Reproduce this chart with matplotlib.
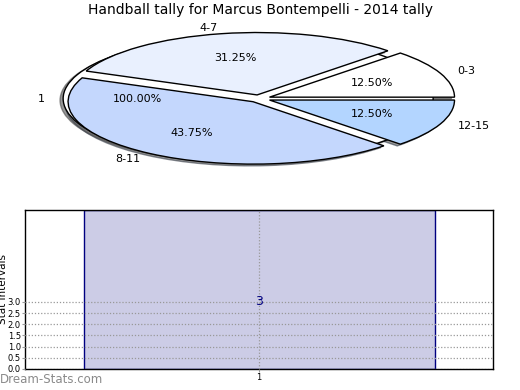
#!/usr/bin/env python3
# Handball tally pie + stat interval bar for Marcus Bontempelli (2014)

import numpy as np
import matplotlib
matplotlib.use("Agg")
import matplotlib.pyplot as plt

title = "Handball tally for Marcus Bontempelli - 2014 tally"

# pie data: handball counts by range
tally_labels = ["0-3", "4-7", "8-11", "12-15"]
tally_counts = [2, 5, 7, 2]
tally_colors = ["#FFFFFF", "#E9F0FE", "#C4D7FD", "#B3D5FF"]

# stat intervals
interval_labels = ["1"]
interval_values = [3]

fig = plt.figure(figsize=(5.2, 3.9), dpi=100)

# ---- pie (squashed into an ellipse) ----
shadow = dict(ox=-0.012, oy=-0.02, facecolor="#555555", alpha=0.6)
ax1 = fig.add_axes([28 / 520, 1 - 176.6 / 390, 462.5 / 520, 156 / 390])
ax1.pie(interval_values, labels=interval_labels, colors=["white"],
        explode=[0.06], autopct="%1.2f%%", shadow=shadow,
        wedgeprops=dict(edgecolor="black", linewidth=1),
        textprops=dict(fontsize=8))
ax1.pie(tally_counts, labels=tally_labels, colors=tally_colors,
        explode=[0.06] * len(tally_counts), autopct="%1.2f%%", shadow=shadow,
        wedgeprops=dict(edgecolor="black", linewidth=1),
        textprops=dict(fontsize=8))
ax1.set_aspect("auto")
ax1.set_xlim(-1.25, 1.25)
ax1.set_ylim(-1.25, 1.25)
fig.text(0.5, 1 - 10 / 390, title, ha="center", va="center", fontsize=10)

# ---- bar chart ----
ax2 = fig.add_axes([25 / 520, 1 - 369 / 390, 468 / 520, 159 / 390])
x = np.arange(1, len(interval_values) + 1)
ymax = 7.1
bar_w = 0.75
for xi, v in zip(x, interval_values):
    ax2.axvspan(xi - bar_w / 2, xi + bar_w / 2, facecolor="#CCCCE6",
                edgecolor="navy", linewidth=1, zorder=1)
    ax2.text(xi, v, str(v), ha="center", va="center", fontsize=9,
             color="navy", zorder=3)
ax2.set_xlim(0.5, len(interval_values) + 0.5)
ax2.set_ylim(0, ymax)
ax2.set_xticks(x)
ax2.set_xticklabels(interval_labels)
ax2.set_yticks(np.arange(0, max(interval_values) + 0.5, 0.5))
ax2.yaxis.set_major_formatter(matplotlib.ticker.FormatStrFormatter("%.1f"))
ax2.tick_params(labelsize=6, length=2, pad=1, color="#999999")
ax2.grid(True, linestyle=(0, (1, 1.5)), color="#999999", linewidth=0.9, zorder=2)
ax2.set_axisbelow(False)
for s in ax2.spines.values():
    s.set_linewidth(1)
ax2.set_ylabel("Stat Intervals", fontsize=7.5)
ax2.yaxis.set_label_coords(-0.036, 0.5)

fig.text(0.0, 0.01, "Dream-Stats.com", fontsize=8.5, color="#8a8a8a",
         ha="left", va="bottom")

fig.savefig("out.png", dpi=100)
print("saved out.png")
